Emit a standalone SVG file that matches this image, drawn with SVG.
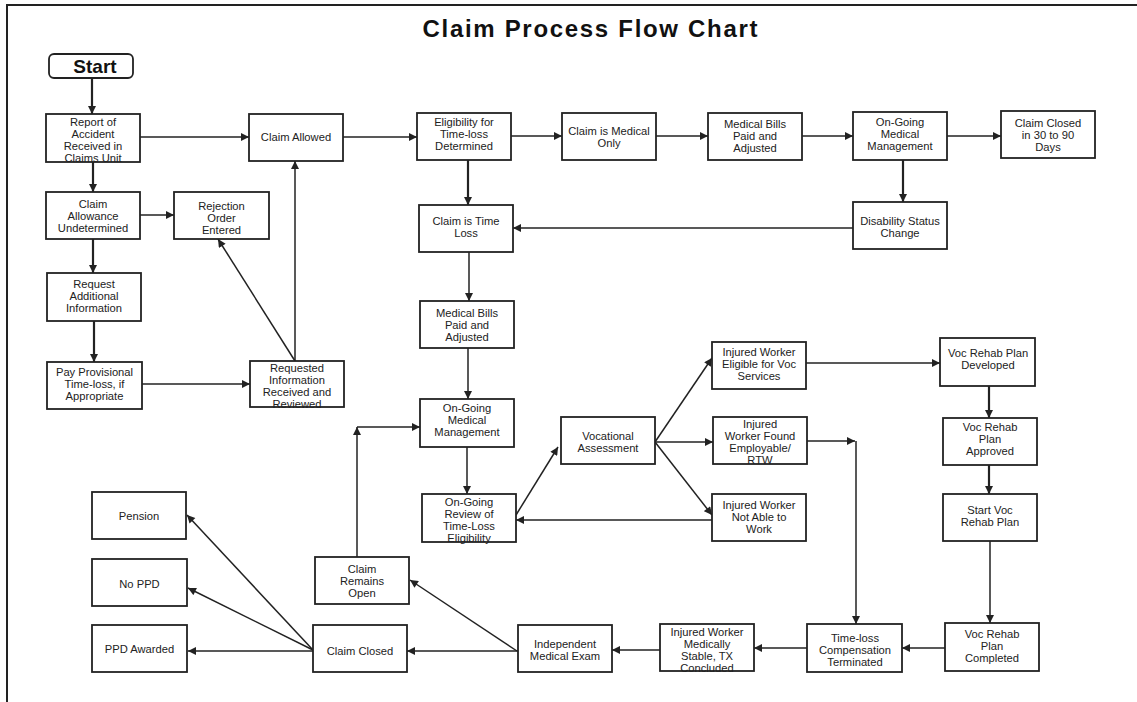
<svg xmlns="http://www.w3.org/2000/svg" width="1137" height="702" viewBox="0 0 1137 702">
<style>
.box{fill:#fff;stroke:#222;stroke-width:1.8}
.t{font-family:"Liberation Sans",Arial,sans-serif;font-size:11.2px;fill:#222;text-anchor:middle}
.c{fill:none;stroke:#222;stroke-width:1.5;marker-end:url(#ah)}
.k{stroke-width:2.2}
.frame{stroke:#222;stroke-width:2;fill:none}
</style>
<defs>
<marker id="ah" viewBox="0 0 10 10" refX="10" refY="5" markerWidth="9" markerHeight="8" markerUnits="userSpaceOnUse" orient="auto">
<path d="M0,0 L10,5 L0,10 z" fill="#222"/>
</marker>
</defs>
<rect width="1137" height="702" fill="#fff"/>
<path class="frame" d="M7,702 V5 H1137"/>
<text x="590" y="37" font-family="'Liberation Sans',Arial,sans-serif" font-size="24" font-weight="bold" fill="#111" text-anchor="middle" textLength="335" lengthAdjust="spacing">Claim Process Flow Chart</text>

<g id="connectors">
<path class="c k" d="M92,78 V114"/>
<path class="c" d="M140,137 H249"/>
<path class="c k" d="M93,162 V192"/>
<path class="c" d="M140,215 H174"/>
<path class="c k" d="M93,239 V273"/>
<path class="c k" d="M94,321 V362"/>
<path class="c" d="M142,384 H250"/>
<path class="c" d="M295,361 V161"/>
<path class="c" d="M295,361 L218,239"/>
<path class="c" d="M343,137 H417"/>
<path class="c" d="M511,136 H562"/>
<path class="c" d="M656,136 H708"/>
<path class="c" d="M802,136 H853"/>
<path class="c" d="M947,136 H1001"/>
<path class="c k" d="M903,160 V202"/>
<path class="c" d="M853,228 H513"/>
<path class="c k" d="M468,160 V205"/>
<path class="c" d="M469,252 V301"/>
<path class="c" d="M468,348 V399"/>
<path class="c" d="M467,447 V494"/>
<path class="c" d="M516,515 L558,447"/>
<path class="c" d="M655,442 L712,358"/>
<path class="c" d="M655,442 H713"/>
<path class="c" d="M655,442 L712,515"/>
<path class="c" d="M712,520 H516"/>
<path class="c" d="M806,363 H940"/>
<path class="c k" d="M989,386 V418"/>
<path class="c k" d="M989,465 V494"/>
<path class="c" d="M990,541 V623"/>
<path class="c" d="M945,648 H902"/>
<path class="c" d="M807,441 H855"/>
<path class="c" d="M856,441 V624"/>
<path class="c" d="M807,648 H754"/>
<path class="c" d="M660,650 H612"/>
<path class="c" d="M518,651 H407"/>
<path class="c" d="M517,651 L410,580"/>
<path class="c" d="M357,557 V427"/>
<path class="c" d="M357,427 H420"/>
<path class="c" d="M313,650 L187,515"/>
<path class="c" d="M313,650 L188,588"/>
<path class="c" d="M313,651 H188"/>
</g>

<g id="start"><rect class="box" x="49" y="54" width="84" height="24" rx="5"/><text x="95" y="73" font-family="'Liberation Sans',Arial,sans-serif" font-size="19" font-weight="bold" fill="#111" text-anchor="middle">Start</text></g>
<g id="report"><rect class="box" x="46" y="114" width="94" height="48"/><text class="t"><tspan x="93" y="126">Report of</tspan><tspan x="93" y="138">Accident</tspan><tspan x="93" y="150">Received in</tspan><tspan x="93" y="162">Claims Unit</tspan></text></g>
<g id="allowed"><rect class="box" x="249" y="114" width="94" height="47"/><text class="t"><tspan x="296" y="141">Claim Allowed</tspan></text></g>
<g id="undetermined"><rect class="box" x="46" y="192" width="94" height="47"/><text class="t"><tspan x="93" y="208">Claim</tspan><tspan x="93" y="220">Allowance</tspan><tspan x="93" y="232">Undetermined</tspan></text></g>
<g id="rejection"><rect class="box" x="174" y="192" width="95" height="47"/><text class="t"><tspan x="221.5" y="210">Rejection</tspan><tspan x="221.5" y="222">Order</tspan><tspan x="221.5" y="234">Entered</tspan></text></g>
<g id="request"><rect class="box" x="47" y="273" width="94" height="48"/><text class="t"><tspan x="94" y="288">Request</tspan><tspan x="94" y="300">Additional</tspan><tspan x="94" y="312">Information</tspan></text></g>
<g id="provisional"><rect class="box" x="47" y="362" width="95" height="47"/><text class="t"><tspan x="94.5" y="376">Pay Provisional</tspan><tspan x="94.5" y="388">Time-loss, if</tspan><tspan x="94.5" y="400">Appropriate</tspan></text></g>
<g id="received"><rect class="box" x="250" y="361" width="94" height="46"/><text class="t"><tspan x="297" y="372">Requested</tspan><tspan x="297" y="384">Information</tspan><tspan x="297" y="396">Received and</tspan><tspan x="297" y="408">Reviewed</tspan></text></g>
<g id="eligibility"><rect class="box" x="417" y="113" width="94" height="47"/><text class="t"><tspan x="464" y="126">Eligibility for</tspan><tspan x="464" y="138">Time-loss</tspan><tspan x="464" y="150">Determined</tspan></text></g>
<g id="medonly"><rect class="box" x="562" y="113" width="94" height="47"/><text class="t"><tspan x="609" y="135">Claim is Medical</tspan><tspan x="609" y="147">Only</tspan></text></g>
<g id="bills1"><rect class="box" x="708" y="113" width="94" height="47"/><text class="t"><tspan x="755" y="128">Medical Bills</tspan><tspan x="755" y="140">Paid and</tspan><tspan x="755" y="152">Adjusted</tspan></text></g>
<g id="mgmt1"><rect class="box" x="853" y="112" width="94" height="48"/><text class="t"><tspan x="900" y="126">On-Going</tspan><tspan x="900" y="138">Medical</tspan><tspan x="900" y="150">Management</tspan></text></g>
<g id="closed90"><rect class="box" x="1001" y="111" width="94" height="47"/><text class="t"><tspan x="1048" y="127">Claim Closed</tspan><tspan x="1048" y="139">in 30 to 90</tspan><tspan x="1048" y="151">Days</tspan></text></g>
<g id="timeloss"><rect class="box" x="419" y="205" width="94" height="47"/><text class="t"><tspan x="466" y="225">Claim is Time</tspan><tspan x="466" y="237">Loss</tspan></text></g>
<g id="disability"><rect class="box" x="853" y="202" width="94" height="47"/><text class="t"><tspan x="900" y="225">Disability Status</tspan><tspan x="900" y="237">Change</tspan></text></g>
<g id="bills2"><rect class="box" x="420" y="301" width="94" height="47"/><text class="t"><tspan x="467" y="317">Medical Bills</tspan><tspan x="467" y="329">Paid and</tspan><tspan x="467" y="341">Adjusted</tspan></text></g>
<g id="mgmt2"><rect class="box" x="420" y="399" width="94" height="48"/><text class="t"><tspan x="467" y="412">On-Going</tspan><tspan x="467" y="424">Medical</tspan><tspan x="467" y="436">Management</tspan></text></g>
<g id="review"><rect class="box" x="422" y="494" width="94" height="48"/><text class="t"><tspan x="469" y="506">On-Going</tspan><tspan x="469" y="518">Review of</tspan><tspan x="469" y="530">Time-Loss</tspan><tspan x="469" y="542">Eligibility</tspan></text></g>
<g id="vocassess"><rect class="box" x="561" y="417" width="94" height="47"/><text class="t"><tspan x="608" y="440">Vocational</tspan><tspan x="608" y="452">Assessment</tspan></text></g>
<g id="eligiblevoc"><rect class="box" x="712" y="342" width="94" height="47"/><text class="t"><tspan x="759" y="356">Injured Worker</tspan><tspan x="759" y="368">Eligible for Voc</tspan><tspan x="759" y="380">Services</tspan></text></g>
<g id="employable"><rect class="box" x="713" y="417" width="94" height="47"/><text class="t"><tspan x="760" y="428">Injured</tspan><tspan x="760" y="440">Worker Found</tspan><tspan x="760" y="452">Employable/</tspan><tspan x="760" y="464">RTW</tspan></text></g>
<g id="notable"><rect class="box" x="712" y="494" width="94" height="47"/><text class="t"><tspan x="759" y="509">Injured Worker</tspan><tspan x="759" y="521">Not Able to</tspan><tspan x="759" y="533">Work</tspan></text></g>
<g id="developed"><rect class="box" x="940" y="338" width="95" height="48"/><text class="t"><tspan x="988" y="357">Voc Rehab Plan</tspan><tspan x="988" y="369">Developed</tspan></text></g>
<g id="approved"><rect class="box" x="943" y="418" width="94" height="47"/><text class="t"><tspan x="990" y="431">Voc Rehab</tspan><tspan x="990" y="443">Plan</tspan><tspan x="990" y="455">Approved</tspan></text></g>
<g id="startvoc"><rect class="box" x="943" y="494" width="94" height="47"/><text class="t"><tspan x="990" y="514">Start Voc</tspan><tspan x="990" y="526">Rehab Plan</tspan></text></g>
<g id="completed"><rect class="box" x="945" y="623" width="94" height="48"/><text class="t"><tspan x="992" y="638">Voc Rehab</tspan><tspan x="992" y="650">Plan</tspan><tspan x="992" y="662">Completed</tspan></text></g>
<g id="terminated"><rect class="box" x="807" y="624" width="95" height="48"/><text class="t"><tspan x="855" y="642">Time-loss</tspan><tspan x="855" y="654">Compensation</tspan><tspan x="855" y="666">Terminated</tspan></text></g>
<g id="stable"><rect class="box" x="660" y="624" width="94" height="47"/><text class="t"><tspan x="707" y="636">Injured Worker</tspan><tspan x="707" y="648">Medically</tspan><tspan x="707" y="660">Stable, TX</tspan><tspan x="707" y="672">Concluded</tspan></text></g>
<g id="ime"><rect class="box" x="518" y="625" width="94" height="47"/><text class="t"><tspan x="565" y="648">Independent</tspan><tspan x="565" y="660">Medical Exam</tspan></text></g>
<g id="remainsopen"><rect class="box" x="315" y="557" width="94" height="47"/><text class="t"><tspan x="362" y="573">Claim</tspan><tspan x="362" y="585">Remains</tspan><tspan x="362" y="597">Open</tspan></text></g>
<g id="claimclosed"><rect class="box" x="313" y="625" width="94" height="47"/><text class="t"><tspan x="360" y="655">Claim Closed</tspan></text></g>
<g id="pension"><rect class="box" x="92" y="492" width="94" height="47"/><text class="t"><tspan x="139" y="520">Pension</tspan></text></g>
<g id="noppd"><rect class="box" x="92" y="559" width="95" height="47"/><text class="t"><tspan x="139.5" y="588">No PPD</tspan></text></g>
<g id="ppdawarded"><rect class="box" x="92" y="625" width="95" height="47"/><text class="t"><tspan x="139.5" y="653">PPD Awarded</tspan></text></g>
</svg>
